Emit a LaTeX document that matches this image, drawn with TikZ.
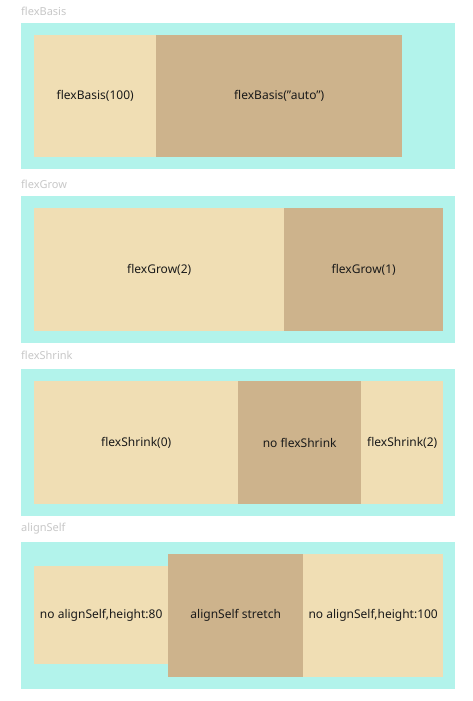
\documentclass[tikz,border=0pt]{standalone}
\usepackage{fontspec}
\setmainfont{Noto Sans}[Ligatures=NoCommon]
\definecolor{aqua}{HTML}{B2F3EB}
\definecolor{wheatc}{HTML}{F0DEB4}
\definecolor{tanc}{HTML}{CDB38C}
\definecolor{lbl}{HTML}{C8C8C8}
\definecolor{txt}{HTML}{1A1A1A}
\begin{document}
\begin{tikzpicture}[x=1pt,y=-1pt,
  outerbox/.style={fill=aqua,draw=none,anchor=north west,inner sep=0pt,minimum width=434pt},
  item/.style={draw=none,anchor=north west,inner sep=0pt,font=\fontsize{12}{14}\selectfont,text=txt},
  light/.style={item,fill=wheatc},
  dark/.style={item,fill=tanc},
  title/.style={anchor=west,inner sep=0pt,font=\fontsize{11}{13}\selectfont,text=lbl}]
\useasboundingbox[fill=white] (0,0) rectangle (473,701);
% flexBasis
\node[title] (t1) at (21,11) {flexBasis};
\node[outerbox,minimum height=146pt] (o1) at (21,23) {};
\node[light,minimum width=122pt,minimum height=122pt] (b1a) at (34,35) {flexBasis(100)};
\node[dark,minimum width=246pt,minimum height=122pt] (b1b) at (156,35) {flexBasis(\symbol{34}auto\symbol{34})};
% flexGrow
\node[title] (t2) at (21,184) {flexGrow};
\node[outerbox,minimum height=147pt] (o2) at (21,196) {};
\node[light,minimum width=250pt,minimum height=123pt] (b2a) at (34,208) {flexGrow(2)};
\node[dark,minimum width=159pt,minimum height=123pt] (b2b) at (284,208) {flexGrow(1)};
% flexShrink
\node[title] (t3) at (21,355) {flexShrink};
\node[outerbox,minimum height=147pt] (o3) at (21,369) {};
\node[light,minimum width=204pt,minimum height=123pt] (b3a) at (34,381) {flexShrink(0)};
\node[dark,minimum width=123pt,minimum height=123pt] (b3b) at (238,381) {no flexShrink};
\node[light,minimum width=82pt,minimum height=123pt] (b3c) at (361,381) {flexShrink(2)};
% alignSelf
\node[title] (t4) at (21,529) {alignSelf};
\node[outerbox,minimum height=147pt] (o4) at (21,542) {};
\node[light,minimum width=134pt,minimum height=98pt] (b4a) at (34,566) {no alignSelf,height:80};
\node[dark,minimum width=135pt,minimum height=123pt] (b4b) at (168,554) {alignSelf stretch};
\node[light,minimum width=140pt,minimum height=123pt] (b4c) at (303,554) {no alignSelf,height:100};
\end{tikzpicture}
\end{document}
